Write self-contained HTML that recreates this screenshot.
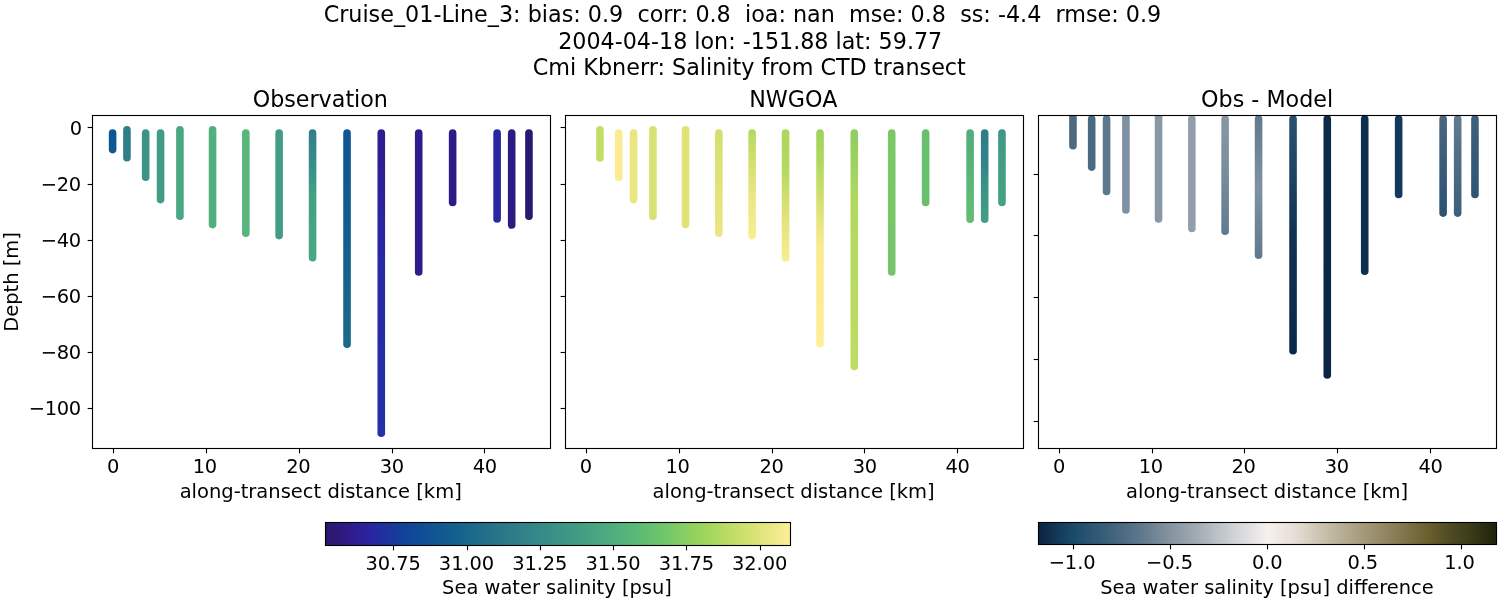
<!DOCTYPE html>
<html><head><meta charset="utf-8"><title>Cruise_01-Line_3</title>
<style>
html,body{margin:0;padding:0;background:#fff;}
body{width:1500px;height:600px;overflow:hidden;}
svg{display:block;font-family:"DejaVu Sans", "Liberation Sans", sans-serif;fill:#000;}
text{white-space:pre;}
</style></head><body>
<svg width="1500" height="600" viewBox="0 0 1500 600">
<defs>
<linearGradient id="g1" gradientUnits="userSpaceOnUse" x1="0" y1="129.20" x2="0" y2="153.40"><stop offset="0.000" stop-color="#0f5493"/><stop offset="1.000" stop-color="#115a90"/></linearGradient>
<linearGradient id="g2" gradientUnits="userSpaceOnUse" x1="0" y1="129.20" x2="0" y2="261.60"><stop offset="0.000" stop-color="#2f7f88"/><stop offset="0.300" stop-color="#38908a"/><stop offset="0.500" stop-color="#45a084"/><stop offset="1.000" stop-color="#4aa782"/></linearGradient>
<linearGradient id="g3" gradientUnits="userSpaceOnUse" x1="0" y1="129.20" x2="0" y2="348.00"><stop offset="0.000" stop-color="#0f5592"/><stop offset="0.500" stop-color="#135d8e"/><stop offset="1.000" stop-color="#1a6a8a"/></linearGradient>
<linearGradient id="g4" gradientUnits="userSpaceOnUse" x1="0" y1="129.20" x2="0" y2="437.00"><stop offset="0.000" stop-color="#2f1d8e"/><stop offset="0.100" stop-color="#2f1e92"/><stop offset="0.300" stop-color="#2b25a1"/><stop offset="0.450" stop-color="#2729a3"/><stop offset="1.000" stop-color="#2530a6"/></linearGradient>
<linearGradient id="g5" gradientUnits="userSpaceOnUse" x1="0" y1="129.20" x2="0" y2="237.00"><stop offset="0.000" stop-color="#d2e06f"/><stop offset="1.000" stop-color="#ece684"/></linearGradient>
<linearGradient id="g6" gradientUnits="userSpaceOnUse" x1="0" y1="129.20" x2="0" y2="239.40"><stop offset="0.000" stop-color="#b2d95e"/><stop offset="0.250" stop-color="#cfdf6c"/><stop offset="0.600" stop-color="#ece684"/><stop offset="1.000" stop-color="#fbec92"/></linearGradient>
<linearGradient id="g7" gradientUnits="userSpaceOnUse" x1="0" y1="129.20" x2="0" y2="261.60"><stop offset="0.000" stop-color="#aad75c"/><stop offset="0.330" stop-color="#b5da5f"/><stop offset="0.500" stop-color="#cfdf6c"/><stop offset="0.800" stop-color="#ece684"/><stop offset="1.000" stop-color="#fbec92"/></linearGradient>
<linearGradient id="g8" gradientUnits="userSpaceOnUse" x1="0" y1="129.20" x2="0" y2="347.60"><stop offset="0.000" stop-color="#9dd35b"/><stop offset="0.150" stop-color="#b0d95e"/><stop offset="0.300" stop-color="#cfdf6c"/><stop offset="0.430" stop-color="#e8e580"/><stop offset="0.550" stop-color="#f8eb90"/><stop offset="0.650" stop-color="#fbec92"/><stop offset="1.000" stop-color="#fdee99"/></linearGradient>
<linearGradient id="g9" gradientUnits="userSpaceOnUse" x1="0" y1="129.20" x2="0" y2="370.20"><stop offset="0.000" stop-color="#8ccd62"/><stop offset="0.300" stop-color="#b0d95e"/><stop offset="1.000" stop-color="#bfdc63"/></linearGradient>
<linearGradient id="g10" gradientUnits="userSpaceOnUse" x1="0" y1="129.20" x2="0" y2="275.80"><stop offset="0.000" stop-color="#7cc866"/><stop offset="1.000" stop-color="#74c56a"/></linearGradient>
<linearGradient id="g11" gradientUnits="userSpaceOnUse" x1="0" y1="129.20" x2="0" y2="223.00"><stop offset="0.000" stop-color="#4fae7c"/><stop offset="1.000" stop-color="#63be72"/></linearGradient>
<linearGradient id="g12" gradientUnits="userSpaceOnUse" x1="0" y1="129.20" x2="0" y2="223.00"><stop offset="0.000" stop-color="#2e7d88"/><stop offset="0.300" stop-color="#31828a"/><stop offset="0.600" stop-color="#3a9187"/><stop offset="1.000" stop-color="#43a083"/></linearGradient>
<linearGradient id="g13" gradientUnits="userSpaceOnUse" x1="0" y1="129.20" x2="0" y2="206.30"><stop offset="0.000" stop-color="#3d9586"/><stop offset="0.300" stop-color="#429c84"/><stop offset="1.000" stop-color="#46a183"/></linearGradient>
<linearGradient id="g14" gradientUnits="userSpaceOnUse" x1="0" y1="115.30" x2="0" y2="235.10"><stop offset="0.000" stop-color="#8898a5"/><stop offset="0.400" stop-color="#7c8f9e"/><stop offset="1.000" stop-color="#5f7a8f"/></linearGradient>
<linearGradient id="g15" gradientUnits="userSpaceOnUse" x1="0" y1="115.30" x2="0" y2="259.00"><stop offset="0.000" stop-color="#5f798c"/><stop offset="0.500" stop-color="#7f92a1"/><stop offset="1.000" stop-color="#5f798d"/></linearGradient>
<linearGradient id="g16" gradientUnits="userSpaceOnUse" x1="0" y1="115.30" x2="0" y2="354.50"><stop offset="0.000" stop-color="#28506f"/><stop offset="0.150" stop-color="#23496a"/><stop offset="0.300" stop-color="#1a3f60"/><stop offset="0.500" stop-color="#113152"/><stop offset="1.000" stop-color="#0c2848"/></linearGradient>
<linearGradient id="g17" gradientUnits="userSpaceOnUse" x1="0" y1="115.30" x2="0" y2="378.70"><stop offset="0.000" stop-color="#0d2a48"/><stop offset="1.000" stop-color="#0a2545"/></linearGradient>
<linearGradient id="g18" gradientUnits="userSpaceOnUse" x1="0" y1="115.30" x2="0" y2="216.90"><stop offset="0.000" stop-color="#4a667e"/><stop offset="1.000" stop-color="#2a5272"/></linearGradient>
<linearGradient id="g19" gradientUnits="userSpaceOnUse" x1="0" y1="115.30" x2="0" y2="216.90"><stop offset="0.000" stop-color="#637a8e"/><stop offset="1.000" stop-color="#3a5f7b"/></linearGradient>
<linearGradient id="g20" gradientUnits="userSpaceOnUse" x1="0" y1="115.30" x2="0" y2="198.20"><stop offset="0.000" stop-color="#3f617b"/><stop offset="1.000" stop-color="#2d5574"/></linearGradient>
<linearGradient id="g21" gradientUnits="userSpaceOnUse" x1="325.50" y1="0" x2="790.50" y2="0"><stop offset="0.0000" stop-color="#2a186e"/><stop offset="0.0300" stop-color="#2d1a7c"/><stop offset="0.0600" stop-color="#2f1d90"/><stop offset="0.0909" stop-color="#2a23a0"/><stop offset="0.1818" stop-color="#0f4799"/><stop offset="0.2727" stop-color="#125f8e"/><stop offset="0.3636" stop-color="#267489"/><stop offset="0.4545" stop-color="#358888"/><stop offset="0.5455" stop-color="#419d85"/><stop offset="0.6364" stop-color="#51b27c"/><stop offset="0.7273" stop-color="#6fc66b"/><stop offset="0.8182" stop-color="#a0d65b"/><stop offset="0.9091" stop-color="#d4e170"/><stop offset="1.0000" stop-color="#fdee99"/></linearGradient>
<linearGradient id="g22" gradientUnits="userSpaceOnUse" x1="1038.50" y1="0" x2="1496.50" y2="0"><stop offset="0.0000" stop-color="#0c2340"/><stop offset="0.0750" stop-color="#1a4a6a"/><stop offset="0.1500" stop-color="#3b6079"/><stop offset="0.2250" stop-color="#5e788c"/><stop offset="0.2750" stop-color="#7e8f9c"/><stop offset="0.3500" stop-color="#a4adb5"/><stop offset="0.4250" stop-color="#cfd2d6"/><stop offset="0.5000" stop-color="#f5f1ef"/><stop offset="0.5600" stop-color="#e6ded5"/><stop offset="0.6250" stop-color="#c7bfa9"/><stop offset="0.7000" stop-color="#a79e80"/><stop offset="0.7750" stop-color="#8a7f58"/><stop offset="0.8500" stop-color="#6b5f2f"/><stop offset="0.9000" stop-color="#4e4a22"/><stop offset="0.9500" stop-color="#373a17"/><stop offset="1.0000" stop-color="#1e230a"/></linearGradient>
</defs>
<text x="742.45" y="21.80" font-size="22.27" text-anchor="middle" >Cruise_01-Line_3: bias: 0.9  corr: 0.8  ioa: nan  mse: 0.8  ss: -4.4  rmse: 0.9</text>
<text x="750.20" y="49.00" font-size="22.22" text-anchor="middle" >2004-04-18 lon: -151.88 lat: 59.77</text>
<text x="749.30" y="75.00" font-size="22.29" text-anchor="middle" >Cmi Kbnerr: Salinity from CTD transect</text>
<clipPath id="cp3"><rect x="1038.5" y="115.5" width="458" height="333"/></clipPath>
<rect x="108.80" y="129.20" width="7.60" height="24.20" rx="3.80" ry="3.80" fill="url(#g1)"/>
<rect x="123.16" y="126.00" width="7.60" height="35.60" rx="3.80" ry="3.80" fill="#2f7e88"/>
<rect x="141.88" y="129.20" width="7.60" height="51.80" rx="3.80" ry="3.80" fill="#3d9586"/>
<rect x="156.76" y="129.20" width="7.60" height="74.20" rx="3.80" ry="3.80" fill="#429b85"/>
<rect x="176.12" y="126.00" width="7.60" height="94.00" rx="3.80" ry="3.80" fill="#4aa783"/>
<rect x="208.76" y="126.00" width="7.60" height="102.40" rx="3.80" ry="3.80" fill="#52b07e"/>
<rect x="242.04" y="129.20" width="7.60" height="107.80" rx="3.80" ry="3.80" fill="#58b57b"/>
<rect x="275.32" y="129.20" width="7.60" height="110.20" rx="3.80" ry="3.80" fill="#439d85"/>
<rect x="308.76" y="129.20" width="7.60" height="132.40" rx="3.80" ry="3.80" fill="url(#g2)"/>
<rect x="343.24" y="129.20" width="7.60" height="218.80" rx="3.80" ry="3.80" fill="url(#g3)"/>
<rect x="377.48" y="129.20" width="7.60" height="307.80" rx="3.80" ry="3.80" fill="url(#g4)"/>
<rect x="414.92" y="129.20" width="7.60" height="146.60" rx="3.80" ry="3.80" fill="#2f1c8c"/>
<rect x="448.84" y="129.20" width="7.60" height="77.10" rx="3.80" ry="3.80" fill="#2e1b8a"/>
<rect x="493.32" y="129.20" width="7.60" height="93.60" rx="3.80" ry="3.80" fill="#2a27a2"/>
<rect x="507.88" y="129.20" width="7.60" height="99.50" rx="3.80" ry="3.80" fill="#2d1b83"/>
<rect x="525.16" y="129.20" width="7.60" height="90.80" rx="3.80" ry="3.80" fill="#2b186f"/>
<rect x="92.5" y="115.5" width="458" height="333" fill="none" stroke="#000" stroke-width="1.11"/>
<line x1="113.5" y1="448.5" x2="113.5" y2="453.36" stroke="#000" stroke-width="1.11"/>
<text x="112.90" y="473.00" font-size="19.44" text-anchor="middle" letter-spacing="-0.37">0</text>
<line x1="206.5" y1="448.5" x2="206.5" y2="453.36" stroke="#000" stroke-width="1.11"/>
<text x="204.66" y="473.00" font-size="19.44" text-anchor="middle" letter-spacing="-0.37">10</text>
<line x1="299.5" y1="448.5" x2="299.5" y2="453.36" stroke="#000" stroke-width="1.11"/>
<text x="298.34" y="473.00" font-size="19.44" text-anchor="middle" letter-spacing="-0.37">20</text>
<line x1="392.5" y1="448.5" x2="392.5" y2="453.36" stroke="#000" stroke-width="1.11"/>
<text x="391.80" y="473.00" font-size="19.44" text-anchor="middle" letter-spacing="-0.37">30</text>
<line x1="484.5" y1="448.5" x2="484.5" y2="453.36" stroke="#000" stroke-width="1.11"/>
<text x="484.73" y="473.00" font-size="19.44" text-anchor="middle" letter-spacing="-0.37">40</text>
<line x1="87.64" y1="127.5" x2="92.5" y2="127.5" stroke="#000" stroke-width="1.11"/>
<text x="81.68" y="134.70" font-size="19.44" text-anchor="end" letter-spacing="-0.37">0</text>
<line x1="87.64" y1="184.5" x2="92.5" y2="184.5" stroke="#000" stroke-width="1.11"/>
<text x="80.78" y="191.00" font-size="19.44" text-anchor="end" letter-spacing="-0.37">−20</text>
<line x1="87.64" y1="240.5" x2="92.5" y2="240.5" stroke="#000" stroke-width="1.11"/>
<text x="80.78" y="247.00" font-size="19.44" text-anchor="end" letter-spacing="-0.37">−40</text>
<line x1="87.64" y1="296.5" x2="92.5" y2="296.5" stroke="#000" stroke-width="1.11"/>
<text x="80.78" y="303.00" font-size="19.44" text-anchor="end" letter-spacing="-0.37">−60</text>
<line x1="87.64" y1="352.5" x2="92.5" y2="352.5" stroke="#000" stroke-width="1.11"/>
<text x="80.78" y="359.00" font-size="19.44" text-anchor="end" letter-spacing="-0.37">−80</text>
<line x1="87.64" y1="408.5" x2="92.5" y2="408.5" stroke="#000" stroke-width="1.11"/>
<text x="80.78" y="415.00" font-size="19.44" text-anchor="end" letter-spacing="-0.37">−100</text>
<text x="320.30" y="107.00" font-size="22.22" text-anchor="middle" >Observation</text>
<text x="320.70" y="497.60" font-size="19.50" text-anchor="middle" >along-transect distance [km]</text>
<rect x="596.16" y="126.00" width="7.60" height="35.80" rx="3.80" ry="3.80" fill="#c3dd66"/>
<rect x="614.88" y="129.20" width="7.60" height="51.80" rx="3.80" ry="3.80" fill="#fbec92"/>
<rect x="629.76" y="129.20" width="7.60" height="74.20" rx="3.80" ry="3.80" fill="#ebe682"/>
<rect x="649.12" y="126.00" width="7.60" height="94.00" rx="3.80" ry="3.80" fill="#d8e172"/>
<rect x="681.76" y="126.00" width="7.60" height="102.40" rx="3.80" ry="3.80" fill="#dfe378"/>
<rect x="715.04" y="129.20" width="7.60" height="107.80" rx="3.80" ry="3.80" fill="url(#g5)"/>
<rect x="748.32" y="129.20" width="7.60" height="110.20" rx="3.80" ry="3.80" fill="url(#g6)"/>
<rect x="781.76" y="129.20" width="7.60" height="132.40" rx="3.80" ry="3.80" fill="url(#g7)"/>
<rect x="816.24" y="129.20" width="7.60" height="218.40" rx="3.80" ry="3.80" fill="url(#g8)"/>
<rect x="850.48" y="129.20" width="7.60" height="241.00" rx="3.80" ry="3.80" fill="url(#g9)"/>
<rect x="887.92" y="129.20" width="7.60" height="146.60" rx="3.80" ry="3.80" fill="url(#g10)"/>
<rect x="921.84" y="129.20" width="7.60" height="77.10" rx="3.80" ry="3.80" fill="#68c06f"/>
<rect x="966.32" y="129.20" width="7.60" height="93.80" rx="3.80" ry="3.80" fill="url(#g11)"/>
<rect x="980.88" y="129.20" width="7.60" height="93.80" rx="3.80" ry="3.80" fill="url(#g12)"/>
<rect x="998.16" y="129.20" width="7.60" height="77.10" rx="3.80" ry="3.80" fill="url(#g13)"/>
<rect x="565.5" y="115.5" width="458" height="333" fill="none" stroke="#000" stroke-width="1.11"/>
<line x1="586.5" y1="448.5" x2="586.5" y2="453.36" stroke="#000" stroke-width="1.11"/>
<text x="585.80" y="473.00" font-size="19.44" text-anchor="middle" letter-spacing="-0.37">0</text>
<line x1="679.5" y1="448.5" x2="679.5" y2="453.36" stroke="#000" stroke-width="1.11"/>
<text x="677.40" y="473.00" font-size="19.44" text-anchor="middle" letter-spacing="-0.37">10</text>
<line x1="772.5" y1="448.5" x2="772.5" y2="453.36" stroke="#000" stroke-width="1.11"/>
<text x="771.50" y="473.00" font-size="19.44" text-anchor="middle" letter-spacing="-0.37">20</text>
<line x1="864.5" y1="448.5" x2="864.5" y2="453.36" stroke="#000" stroke-width="1.11"/>
<text x="864.80" y="473.00" font-size="19.44" text-anchor="middle" letter-spacing="-0.37">30</text>
<line x1="957.5" y1="448.5" x2="957.5" y2="453.36" stroke="#000" stroke-width="1.11"/>
<text x="957.60" y="473.00" font-size="19.44" text-anchor="middle" letter-spacing="-0.37">40</text>
<line x1="560.64" y1="127.5" x2="565.5" y2="127.5" stroke="#000" stroke-width="1.11"/>
<line x1="560.64" y1="184.5" x2="565.5" y2="184.5" stroke="#000" stroke-width="1.11"/>
<line x1="560.64" y1="240.5" x2="565.5" y2="240.5" stroke="#000" stroke-width="1.11"/>
<line x1="560.64" y1="296.5" x2="565.5" y2="296.5" stroke="#000" stroke-width="1.11"/>
<line x1="560.64" y1="352.5" x2="565.5" y2="352.5" stroke="#000" stroke-width="1.11"/>
<line x1="560.64" y1="408.5" x2="565.5" y2="408.5" stroke="#000" stroke-width="1.11"/>
<text x="793.30" y="107.00" font-size="22.22" text-anchor="middle" >NWGOA</text>
<text x="793.60" y="497.60" font-size="19.50" text-anchor="middle" >along-transect distance [km]</text>
<g clip-path="url(#cp3)">
<rect x="1069.16" y="111.90" width="7.60" height="37.70" rx="3.80" ry="3.80" fill="#4e6a80"/>
<rect x="1087.88" y="115.30" width="7.60" height="55.60" rx="3.80" ry="3.80" fill="#4a6a82"/>
<rect x="1102.76" y="115.30" width="7.60" height="80.00" rx="3.80" ry="3.80" fill="#5f798c"/>
<rect x="1122.12" y="111.90" width="7.60" height="101.90" rx="3.80" ry="3.80" fill="#7f92a1"/>
<rect x="1154.76" y="111.90" width="7.60" height="110.90" rx="3.80" ry="3.80" fill="#8797a4"/>
<rect x="1188.04" y="115.30" width="7.60" height="116.90" rx="3.80" ry="3.80" fill="#929fab"/>
<rect x="1221.32" y="115.30" width="7.60" height="119.80" rx="3.80" ry="3.80" fill="url(#g14)"/>
<rect x="1254.76" y="115.30" width="7.60" height="143.70" rx="3.80" ry="3.80" fill="url(#g15)"/>
<rect x="1289.24" y="115.30" width="7.60" height="239.20" rx="3.80" ry="3.80" fill="url(#g16)"/>
<rect x="1323.48" y="115.30" width="7.60" height="263.40" rx="3.80" ry="3.80" fill="url(#g17)"/>
<rect x="1360.92" y="115.30" width="7.60" height="159.70" rx="3.80" ry="3.80" fill="#0e3050"/>
<rect x="1394.84" y="115.30" width="7.60" height="82.90" rx="3.80" ry="3.80" fill="#133a5d"/>
<rect x="1439.32" y="115.30" width="7.60" height="101.60" rx="3.80" ry="3.80" fill="url(#g18)"/>
<rect x="1453.88" y="115.30" width="7.60" height="101.60" rx="3.80" ry="3.80" fill="url(#g19)"/>
<rect x="1471.16" y="115.30" width="7.60" height="82.90" rx="3.80" ry="3.80" fill="url(#g20)"/>
</g>
<rect x="1038.5" y="115.5" width="458" height="333" fill="none" stroke="#000" stroke-width="1.11"/>
<line x1="1059.5" y1="448.5" x2="1059.5" y2="453.36" stroke="#000" stroke-width="1.11"/>
<text x="1059.10" y="473.00" font-size="19.44" text-anchor="middle" letter-spacing="-0.37">0</text>
<line x1="1152.5" y1="448.5" x2="1152.5" y2="453.36" stroke="#000" stroke-width="1.11"/>
<text x="1150.70" y="473.00" font-size="19.44" text-anchor="middle" letter-spacing="-0.37">10</text>
<line x1="1244.5" y1="448.5" x2="1244.5" y2="453.36" stroke="#000" stroke-width="1.11"/>
<text x="1243.40" y="473.00" font-size="19.44" text-anchor="middle" letter-spacing="-0.37">20</text>
<line x1="1337.5" y1="448.5" x2="1337.5" y2="453.36" stroke="#000" stroke-width="1.11"/>
<text x="1336.85" y="473.00" font-size="19.44" text-anchor="middle" letter-spacing="-0.37">30</text>
<line x1="1430.5" y1="448.5" x2="1430.5" y2="453.36" stroke="#000" stroke-width="1.11"/>
<text x="1430.47" y="473.00" font-size="19.44" text-anchor="middle" letter-spacing="-0.37">40</text>
<line x1="1033.64" y1="174.5" x2="1038.5" y2="174.5" stroke="#000" stroke-width="1.11"/>
<line x1="1033.64" y1="235.5" x2="1038.5" y2="235.5" stroke="#000" stroke-width="1.11"/>
<line x1="1033.64" y1="297.5" x2="1038.5" y2="297.5" stroke="#000" stroke-width="1.11"/>
<line x1="1033.64" y1="359.5" x2="1038.5" y2="359.5" stroke="#000" stroke-width="1.11"/>
<line x1="1033.64" y1="421.5" x2="1038.5" y2="421.5" stroke="#000" stroke-width="1.11"/>
<text x="1267.10" y="107.00" font-size="22.22" text-anchor="middle" >Obs - Model</text>
<text x="1267.10" y="497.60" font-size="19.50" text-anchor="middle" >along-transect distance [km]</text>
<text transform="translate(18.4 282) rotate(-90)" font-size="19.44" text-anchor="middle">Depth [m]</text>
<rect x="325.5" y="522.5" width="465.0" height="23.0" fill="url(#g21)" stroke="#000" stroke-width="1.11"/>
<line x1="393.5" y1="545.5" x2="393.5" y2="550.36" stroke="#000" stroke-width="1.11"/>
<text x="393.15" y="569.60" font-size="19.44" text-anchor="middle" letter-spacing="-0.1">30.75</text>
<line x1="467.5" y1="545.5" x2="467.5" y2="550.36" stroke="#000" stroke-width="1.11"/>
<text x="466.45" y="569.60" font-size="19.44" text-anchor="middle" letter-spacing="-0.1">31.00</text>
<line x1="540.5" y1="545.5" x2="540.5" y2="550.36" stroke="#000" stroke-width="1.11"/>
<text x="539.75" y="569.60" font-size="19.44" text-anchor="middle" letter-spacing="-0.1">31.25</text>
<line x1="613.5" y1="545.5" x2="613.5" y2="550.36" stroke="#000" stroke-width="1.11"/>
<text x="613.05" y="569.60" font-size="19.44" text-anchor="middle" letter-spacing="-0.1">31.50</text>
<line x1="686.5" y1="545.5" x2="686.5" y2="550.36" stroke="#000" stroke-width="1.11"/>
<text x="686.35" y="569.60" font-size="19.44" text-anchor="middle" letter-spacing="-0.1">31.75</text>
<line x1="760.5" y1="545.5" x2="760.5" y2="550.36" stroke="#000" stroke-width="1.11"/>
<text x="759.65" y="569.60" font-size="19.44" text-anchor="middle" letter-spacing="-0.1">32.00</text>
<text x="557.00" y="594.00" font-size="19.44" text-anchor="middle" >Sea water salinity [psu]</text>
<rect x="1038.5" y="522.5" width="458.0" height="22.0" fill="url(#g22)" stroke="#000" stroke-width="1.11"/>
<line x1="1073.5" y1="544.5" x2="1073.5" y2="549.36" stroke="#000" stroke-width="1.11"/>
<text x="1072.10" y="568.60" font-size="19.44" text-anchor="middle" letter-spacing="-0.1">−1.0</text>
<line x1="1170.5" y1="544.5" x2="1170.5" y2="549.36" stroke="#000" stroke-width="1.11"/>
<text x="1169.50" y="568.60" font-size="19.44" text-anchor="middle" letter-spacing="-0.1">−0.5</text>
<line x1="1267.5" y1="544.5" x2="1267.5" y2="549.36" stroke="#000" stroke-width="1.11"/>
<text x="1267.20" y="568.60" font-size="19.44" text-anchor="middle" letter-spacing="-0.1">0.0</text>
<line x1="1364.5" y1="544.5" x2="1364.5" y2="549.36" stroke="#000" stroke-width="1.11"/>
<text x="1362.80" y="568.60" font-size="19.44" text-anchor="middle" letter-spacing="-0.1">0.5</text>
<line x1="1461.5" y1="544.5" x2="1461.5" y2="549.36" stroke="#000" stroke-width="1.11"/>
<text x="1459.50" y="568.60" font-size="19.44" text-anchor="middle" letter-spacing="-0.1">1.0</text>
<text x="1267.00" y="594.00" font-size="19.44" text-anchor="middle" >Sea water salinity [psu] difference</text>
</svg>
</body></html>
